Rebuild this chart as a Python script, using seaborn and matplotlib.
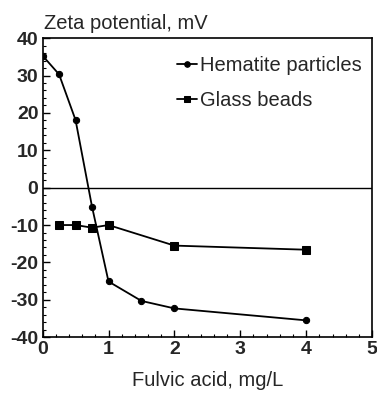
import numpy as np
import pandas as pd
import matplotlib
matplotlib.use("Agg")
import matplotlib.pyplot as plt
from matplotlib.ticker import MultipleLocator
import seaborn as sns

# Data
hem_x = [0, 0.25, 0.5, 0.75, 1.0, 1.5, 2.0, 4.0]
hem_y = [35.3, 30.3, 18.1, -5.1, -25.1, -30.3, -32.3, -35.5]
glass_x = [0.25, 0.5, 0.75, 1.0, 2.0, 4.0]
glass_y = [-10.0, -10.0, -10.7, -10.0, -15.5, -16.6]

sns.set_style("ticks")
plt.rcParams['font.family'] = ['Liberation Sans', 'DejaVu Sans']
plt.rcParams['font.weight'] = 'bold'
plt.rcParams['axes.unicode_minus'] = False

fig = plt.figure(figsize=(3.77, 3.93), dpi=100)
ax = fig.add_axes([0.113, 0.142, 0.874, 0.761])

ax.axhline(0, color='black', lw=1.0)

sns.lineplot(x=hem_x, y=hem_y, ax=ax, color='black', lw=1.3, marker='o',
             markersize=4.5, markeredgecolor='black', label='Hematite particles')
sns.lineplot(x=glass_x, y=glass_y, ax=ax, color='black', lw=1.3, marker='s',
             markersize=6, markeredgecolor='black', label='Glass beads')

ax.set_xlim(0, 5)
ax.set_ylim(-40, 40)
ax.xaxis.set_major_locator(MultipleLocator(1))
ax.xaxis.set_minor_locator(MultipleLocator(0.2))
ax.yaxis.set_major_locator(MultipleLocator(10))
ax.yaxis.set_minor_locator(MultipleLocator(2))
ax.tick_params(which='both', direction='in', top=False, right=False, color='black')
ax.tick_params(which='major', length=5, width=1, labelsize=14, pad=3)
ax.tick_params(which='minor', length=2.5, width=0.8)
for s in ax.spines.values():
    s.set_color('black')
    s.set_linewidth(1.2)

ax.set_xlabel('Fulvic acid, mg/L', fontsize=14.5, fontweight='normal', labelpad=9)
ax.set_ylabel('')
fig.text(0.118, 0.925, 'Zeta potential, mV', fontsize=14.5, fontweight='normal')

leg = ax.legend(loc='upper right', frameon=False, fontsize=14.5, handlelength=1.0,
                handletextpad=0.15, labelspacing=0.8, bbox_to_anchor=(1.025, 1.0))
for t in leg.get_texts():
    t.set_fontweight('normal')
for h in leg.legend_handles:
    h.set_markersize(4)

fig.savefig('out.png', dpi=100)
